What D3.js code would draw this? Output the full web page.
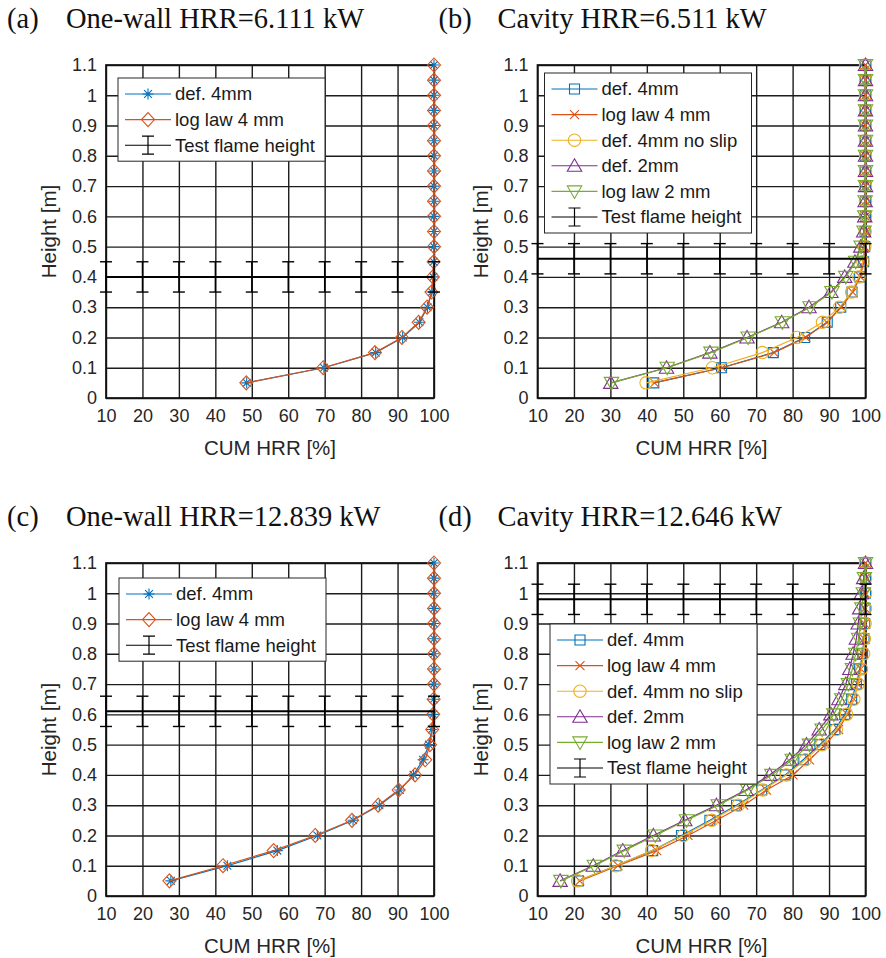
<!DOCTYPE html>
<html>
<head>
<meta charset="utf-8">
<script src="https://cdn.jsdelivr.net/npm/d3@7"></script>
<style>
  body { margin: 0; background: #fff; }
  svg { display: block; }
</style>
</head>
<body>
<div id="wrapper"></div>
<script>
// heights where the cumulative HRR was sampled [m]
const heights = [0.05, 0.1, 0.15, 0.2, 0.25, 0.3, 0.35, 0.4, 0.45, 0.5, 0.55, 0.6, 0.65, 0.7, 0.75, 0.8, 0.85, 0.9, 0.95, 1.0, 1.05, 1.1];

const xTicks = [10, 20, 30, 40, 50, 60, 70, 80, 90, 100];
const xTickLabels = ["10", "20", "30", "40", "50", "60", "70", "80", "90", "100"];
const yTicks = [0, 0.1, 0.2, 0.3, 0.4, 0.5, 0.6, 0.7, 0.8, 0.9, 1.0, 1.1];
const yTickLabels = ["0", "0.1", "0.2", "0.3", "0.4", "0.5", "0.6", "0.7", "0.8", "0.9", "1", "1.1"];

// (a) one-wall 6.111 kW
const aDef4 = [48.6, 69.8, 84.0, 91.4, 96.0, 98.2, 99.4, 99.8, 99.9, 100, 100, 100, 100, 100, 100, 100, 100, 100, 100, 100, 100, 100];
const aLog4 = [48.5, 69.6, 83.8, 91.2, 95.8, 98.1, 99.3, 99.7, 99.9, 100, 100, 100, 100, 100, 100, 100, 100, 100, 100, 100, 100, 100];

// (b) cavity 6.511 kW
const bDef4 = [41.9, 60.5, 74.7, 83.3, 89.5, 93.2, 96.3, 98.4, 99.5, 99.8, 99.9, 100, 100, 100, 100, 100, 100, 100, 100, 100, 100, 100];
const bLog4 = [42.1, 60.7, 74.9, 83.6, 89.4, 93.4, 96.5, 98.6, 99.5, 99.8, 99.9, 100, 100, 100, 100, 100, 100, 100, 100, 100, 100, 100];
const bDef4NoSlip = [39.8, 58.0, 71.7, 81.2, 88.2, 92.9, 96.2, 98.2, 99.3, 99.8, 99.9, 100, 100, 100, 100, 100, 100, 100, 100, 100, 100, 100];
const bDef2 = [30.1, 45.4, 57.3, 67.5, 77.0, 84.5, 90.5, 94.3, 97.1, 98.7, 99.5, 99.8, 99.9, 100, 100, 100, 100, 100, 100, 100, 100, 100];
const bLog2 = [30.3, 45.6, 57.6, 67.8, 77.2, 84.8, 90.8, 94.6, 97.3, 98.8, 99.6, 99.8, 99.9, 100, 100, 100, 100, 100, 100, 100, 100, 100];

// (c) one-wall 12.839 kW
const cDef4 = [27.8, 43.3, 57.0, 68.0, 77.8, 85.0, 90.6, 94.4, 97.0, 98.6, 99.4, 99.8, 99.9, 100, 100, 100, 100, 100, 100, 100, 100, 100];
const cLog4 = [27.4, 42.1, 56.0, 67.4, 77.5, 84.7, 90.3, 94.8, 97.6, 98.9, 99.5, 99.8, 99.9, 100, 100, 100, 100, 100, 100, 100, 100, 100];

// (d) cavity 12.646 kW
const dDef4 = [21.2, 31.5, 41.6, 49.5, 57.3, 64.6, 71.5, 78.0, 82.9, 87.5, 91.6, 94.3, 96.2, 97.5, 98.4, 99.2, 99.6, 99.8, 99.9, 100, 100, 100];
const dLog4 = [21.6, 32.1, 42.7, 51.3, 59.1, 66.6, 72.8, 80.1, 84.6, 89.0, 92.6, 95.0, 96.8, 97.9, 98.7, 99.3, 99.6, 99.8, 99.9, 100, 100, 100];
const dDef4NoSlip = [21.0, 31.5, 41.3, 50.0, 57.8, 65.1, 71.8, 78.3, 83.5, 88.0, 92.0, 94.8, 96.8, 98.0, 98.9, 99.5, 99.7, 99.9, 100, 100, 100, 100];
const dDef2 = [16.2, 25.3, 33.4, 41.8, 50.4, 59.1, 67.2, 73.7, 79.2, 83.8, 87.3, 90.5, 92.7, 94.6, 95.7, 96.6, 97.5, 98.0, 98.4, 98.9, 99.5, 100];
const dLog2 = [16.4, 25.6, 33.8, 42.3, 50.9, 59.6, 67.7, 74.3, 79.9, 84.6, 88.1, 91.3, 93.5, 95.3, 96.4, 97.3, 98.1, 98.6, 99.0, 99.4, 99.7, 100];

// measured flame heights with +-0.05 m error bars at every x tick
const flameHeights = [0.40, 0.46, 0.61, 0.98];
const flameError = 0.05;
const flameX = [10, 20, 30, 40, 50, 60, 70, 80, 90, 100];

const titles = [
  ["(a)", "One-wall HRR=6.111 kW"],
  ["(b)", "Cavity HRR=6.511 kW"],
  ["(c)", "One-wall HRR=12.839 kW"],
  ["(d)", "Cavity HRR=12.646 kW"],
];

const colors = {
  blue: "#0072BD",
  red: "#D95319",
  yellow: "#EDB120",
  purple: "#7E2F8E",
  green: "#77AC30",
};

function markerPath(type) {
  switch (type) {
    case "asterisk": {
      const s = 5.5, t = 3.9;
      return `M${-s},0H${s}M0,${-s}V${s}M${-t},${-t}L${t},${t}M${-t},${t}L${t},${-t}`;
    }
    case "diamond":
      return "M0,-7L6.5,0L0,7L-6.5,0Z";
    case "square":
      return "M-5,-5H5V5H-5Z";
    case "x":
      return "M-4.5,-4.5L4.5,4.5M-4.5,4.5L4.5,-4.5";
    case "circle":
      return "M-6.2,0A6.2,6.2 0 1,0 6.2,0A6.2,6.2 0 1,0 -6.2,0";
    case "triUp":
      return "M0,-7L7.2,5.5L-7.2,5.5Z";
    case "triDown":
      return "M0,7L7.2,-5.5L-7.2,-5.5Z";
  }
}

function drawChart() {
  // 1. dimensions
  const dimensions = {
    width: 886,
    height: 958,
    plotWidth: 328,
    plotHeight: 333,
  };

  const svg = d3
    .select("#wrapper")
    .append("svg")
    .attr("width", dimensions.width)
    .attr("height", dimensions.height)
    .style("font-family", "'Liberation Sans', Arial, sans-serif");

  const panels = [
    {
      left: 106, top: 65, title: titles[0], flame: flameHeights[0],
      legend: { x: 12, y: 13 },
      series: [
        { name: "def. 4mm", values: aDef4, color: colors.blue, marker: "asterisk" },
        { name: "log law 4 mm", values: aLog4, color: colors.red, marker: "diamond" },
      ],
    },
    {
      left: 537.5, top: 65, title: titles[1], flame: flameHeights[1],
      legend: { x: 7, y: 8 },
      series: [
        { name: "def. 4mm", values: bDef4, color: colors.blue, marker: "square" },
        { name: "log law 4 mm", values: bLog4, color: colors.red, marker: "x" },
        { name: "def. 4mm no slip", values: bDef4NoSlip, color: colors.yellow, marker: "circle" },
        { name: "def. 2mm", values: bDef2, color: colors.purple, marker: "triUp" },
        { name: "log law 2 mm", values: bLog2, color: colors.green, marker: "triDown" },
      ],
    },
    {
      left: 106, top: 563, title: titles[2], flame: flameHeights[2],
      legend: { x: 13, y: 15 },
      series: [
        { name: "def. 4mm", values: cDef4, color: colors.blue, marker: "asterisk" },
        { name: "log law 4 mm", values: cLog4, color: colors.red, marker: "diamond" },
      ],
    },
    {
      left: 537.5, top: 563, title: titles[3], flame: flameHeights[3],
      legend: { x: 12.5, y: 61 },
      series: [
        { name: "def. 4mm", values: dDef4, color: colors.blue, marker: "square" },
        { name: "log law 4 mm", values: dLog4, color: colors.red, marker: "x" },
        { name: "def. 4mm no slip", values: dDef4NoSlip, color: colors.yellow, marker: "circle" },
        { name: "def. 2mm", values: dDef2, color: colors.purple, marker: "triUp" },
        { name: "log law 2 mm", values: dLog2, color: colors.green, marker: "triDown" },
      ],
    },
  ];

  panels.forEach((p) => drawPanel(svg, p, dimensions));
}

function drawPanel(svg, p, dimensions) {
  const w = dimensions.plotWidth;
  const h = dimensions.plotHeight;
  const textColor = "#262626";

  const bounds = svg.append("g").attr("transform", `translate(${p.left},${p.top})`);

  // scales
  const xScale = d3.scaleLinear().domain([10, 100]).range([0, w]);
  const yScale = d3.scaleLinear().domain([0, 1.1]).range([h, 0]);

  // axes doubling as grid
  const xAxis = bounds
    .append("g")
    .attr("transform", `translate(0,${h})`)
    .call(
      d3.axisBottom(xScale)
        .tickValues(xTicks)
        .tickSize(-h)
        .tickPadding(11)
        .tickFormat((d, i) => xTickLabels[i])
    );

  const yAxis = bounds
    .append("g")
    .call(
      d3.axisLeft(yScale)
        .tickValues(yTicks)
        .tickSize(-w)
        .tickPadding(9)
        .tickFormat((d, i) => yTickLabels[i])
    );

  [xAxis, yAxis].forEach((ax) => {
    ax.select(".domain").remove();
    ax.selectAll(".tick line").attr("stroke", "#1c1c1c").attr("stroke-width", 1.4);
    ax.selectAll(".tick text")
      .attr("fill", textColor)
      .style("font-size", "18px")
      .style("font-family", "'Liberation Sans', Arial, sans-serif");
  });

  bounds
    .append("rect")
    .attr("width", w)
    .attr("height", h)
    .attr("fill", "none")
    .attr("stroke", "#111")
    .attr("stroke-width", 1.7);

  // axis labels
  bounds
    .append("text")
    .attr("x", w / 2)
    .attr("y", h + 57)
    .attr("text-anchor", "middle")
    .attr("fill", textColor)
    .style("font-size", "20.5px")
    .text("CUM HRR [%]");

  bounds
    .append("text")
    .attr("transform", `translate(-50,${h / 2}) rotate(-90)`)
    .attr("text-anchor", "middle")
    .attr("fill", textColor)
    .style("font-size", "20.5px")
    .text("Height [m]");

  // data series
  const lineGenerator = d3
    .line()
    .x((d) => xScale(d.x))
    .y((d) => yScale(d.y));

  p.series.forEach((s) => {
    const pts = s.values.map((v, i) => ({ x: v, y: heights[i] }));
    bounds
      .append("path")
      .attr("d", lineGenerator(pts))
      .attr("fill", "none")
      .attr("stroke", s.color)
      .attr("stroke-width", 1.2);

    bounds
      .append("g")
      .selectAll("path")
      .data(pts)
      .join("path")
      .attr("transform", (d) => `translate(${xScale(d.x)},${yScale(d.y)})`)
      .attr("d", markerPath(s.marker))
      .attr("fill", "none")
      .attr("stroke", s.color)
      .attr("stroke-width", 1.1);
  });

  // test flame height with error bars
  const flamePts = flameX.map((x) => ({ x: x, y: p.flame }));
  bounds
    .append("path")
    .attr("d", lineGenerator(flamePts))
    .attr("fill", "none")
    .attr("stroke", "#000")
    .attr("stroke-width", 2);

  const bars = bounds
    .append("g")
    .attr("stroke", "#000")
    .attr("stroke-width", 1.4)
    .selectAll("g")
    .data(flamePts)
    .join("g")
    .attr("transform", (d) => `translate(${xScale(d.x)},0)`);

  bars.append("line")
    .attr("y1", (d) => yScale(d.y - flameError))
    .attr("y2", (d) => yScale(d.y + flameError));
  bars.append("line")
    .attr("x1", -6).attr("x2", 6)
    .attr("y1", (d) => yScale(d.y - flameError))
    .attr("y2", (d) => yScale(d.y - flameError));
  bars.append("line")
    .attr("x1", -6).attr("x2", 6)
    .attr("y1", (d) => yScale(d.y + flameError))
    .attr("y2", (d) => yScale(d.y + flameError));

  // legend
  const entries = p.series.map((s) => ({ name: s.name, color: s.color, marker: s.marker }));
  entries.push({ name: "Test flame height", color: "#000", marker: "errorbar" });
  const rowGap = 25.6;
  const pad = 16;
  const legendWidth = 207;
  const legendHeight = pad * 2 + rowGap * (entries.length - 1);

  const legend = bounds
    .append("g")
    .attr("transform", `translate(${p.legend.x},${p.legend.y})`);

  legend
    .append("rect")
    .attr("width", legendWidth)
    .attr("height", legendHeight)
    .attr("fill", "#fff")
    .attr("stroke", "#262626")
    .attr("stroke-width", 1);

  const rows = legend
    .selectAll("g.row")
    .data(entries)
    .join("g")
    .attr("class", "row")
    .attr("transform", (d, i) => `translate(0,${pad + i * rowGap})`);

  rows.append("line")
    .attr("x1", 7).attr("x2", 53)
    .attr("stroke", (d) => d.color)
    .attr("stroke-width", 1.1);

  rows.filter((d) => d.marker !== "errorbar")
    .append("path")
    .attr("transform", "translate(30,0)")
    .attr("d", (d) => markerPath(d.marker))
    .attr("fill", "none")
    .attr("stroke", (d) => d.color)
    .attr("stroke-width", 1.1);

  rows.filter((d) => d.marker === "errorbar")
    .append("path")
    .attr("d", "M30,-9V9M24,-9H36M24,9H36")
    .attr("fill", "none")
    .attr("stroke", "#000")
    .attr("stroke-width", 1.2);

  rows.append("text")
    .attr("x", 57)
    .attr("dy", "0.35em")
    .attr("fill", "#1a1a1a")
    .style("font-size", "18.5px")
    .text((d) => d.name);

  // panel title
  const titleGroup = svg.append("g").style("font-family", "'Liberation Serif', 'Times New Roman', serif")
    .style("font-size", "28.5px")
    .attr("fill", "#111");
  titleGroup.append("text")
    .attr("x", p.left - 99)
    .attr("y", p.top - 37)
    .text(p.title[0]);
  titleGroup.append("text")
    .attr("x", p.left - 40)
    .attr("y", p.top - 37)
    .text(p.title[1]);
}

drawChart();
</script>
</body>
</html>
